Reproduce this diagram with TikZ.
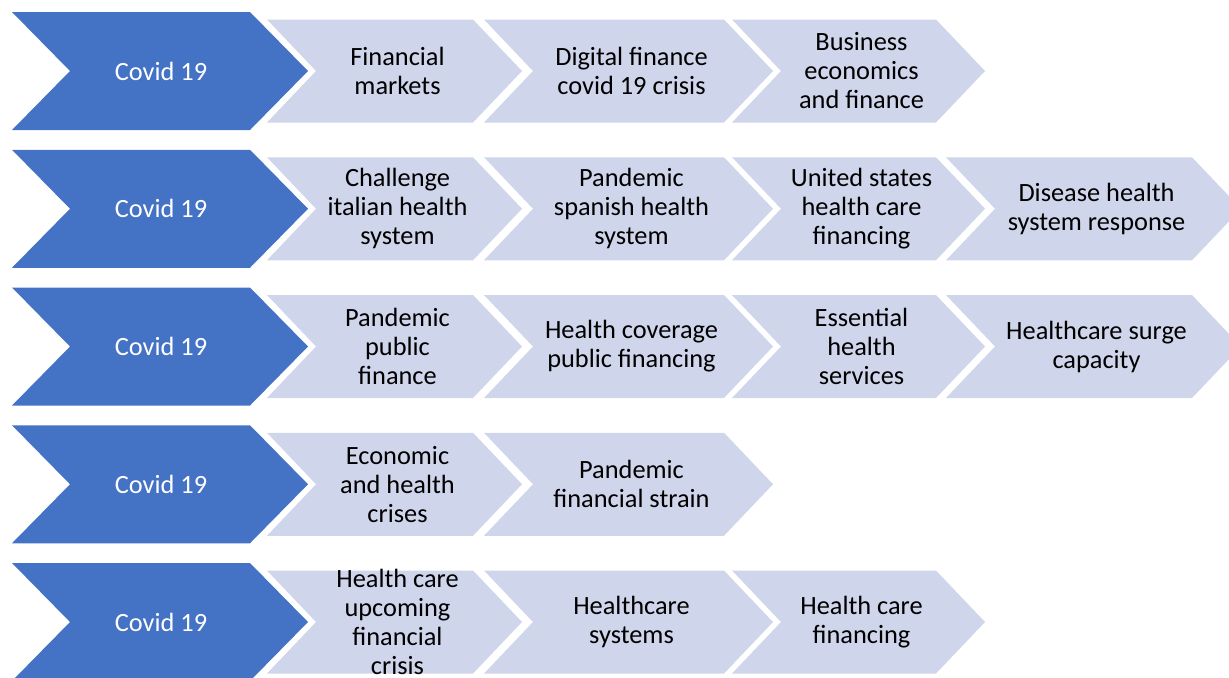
\documentclass[tikz,border=0pt]{standalone}
\usepackage{fontspec}
\setmainfont{Carlito}
\definecolor{covidblue}{HTML}{4472C4}
\definecolor{topicfill}{HTML}{CFD5EA}

\begin{document}
\begin{tikzpicture}[x=0.02cm,y=-0.02cm,
	covid chev/.style={fill=covidblue},
	topic chev/.style={fill=topicfill},
	label text/.style={align=center,inner sep=0pt,font=\fontsize{15}{16.5}\selectfont},
	covid node/.style={label text,text=white},
	topic node/.style={label text,text=black}
]
	\clip (0,0) rectangle (1229,677);

	\def \dy {137.75};
	\def \h {51.5};
	\def \d {49};

	\foreach \r in {0,...,4} {
		\pgfmathsetmacro\cy{71+\r*\dy}
		\fill[covid chev] (12,\cy-59) -- (250,\cy-59) -- (308,\cy) -- (250,\cy+59) -- (12,\cy+59) -- (70,\cy) -- cycle;
		\node[covid node] (k\r) at (161,\cy) {Covid 19};
	}

	\foreach \r/\c/\txt in {
		0/0/{Financial\\markets}, 0/1/{Digital finance\\covid 19 crisis}, 0/2/{Business\\economics\\and finance},
		1/0/{Challenge\\italian health\\system}, 1/1/{Pandemic\\spanish health\\system}, 1/2/{United states\\health care\\financing}, 1/3/{Disease health\\system response},
		2/0/{Pandemic\\public\\finance}, 2/1/{Health coverage\\public financing}, 2/2/{Essential\\health\\services}, 2/3/{Healthcare surge\\capacity},
		3/0/{Economic\\and health\\crises}, 3/1/{Pandemic\\financial strain},
		4/0/{Health care\\upcoming\\financial\\crisis}, 4/1/{Healthcare\\systems}, 4/2/{Health care\\financing}} {
		\pgfmathsetmacro\cy{71+\r*\dy}
		\pgfmathsetmacro\lx{{267,484,732,946}[\c]}
		\pgfmathsetmacro\tx{{522,773,985,1241}[\c]}
		\fill[topic chev] (\lx,\cy-\h) -- (\tx-\d,\cy-\h) -- (\tx,\cy) -- (\tx-\d,\cy+\h) -- (\lx,\cy+\h) -- (\lx+\d,\cy) -- cycle;
		\node[topic node] (t\r\c) at ({(\lx+\tx)/2+3},\cy) {\txt};
	}
\end{tikzpicture}
\end{document}
